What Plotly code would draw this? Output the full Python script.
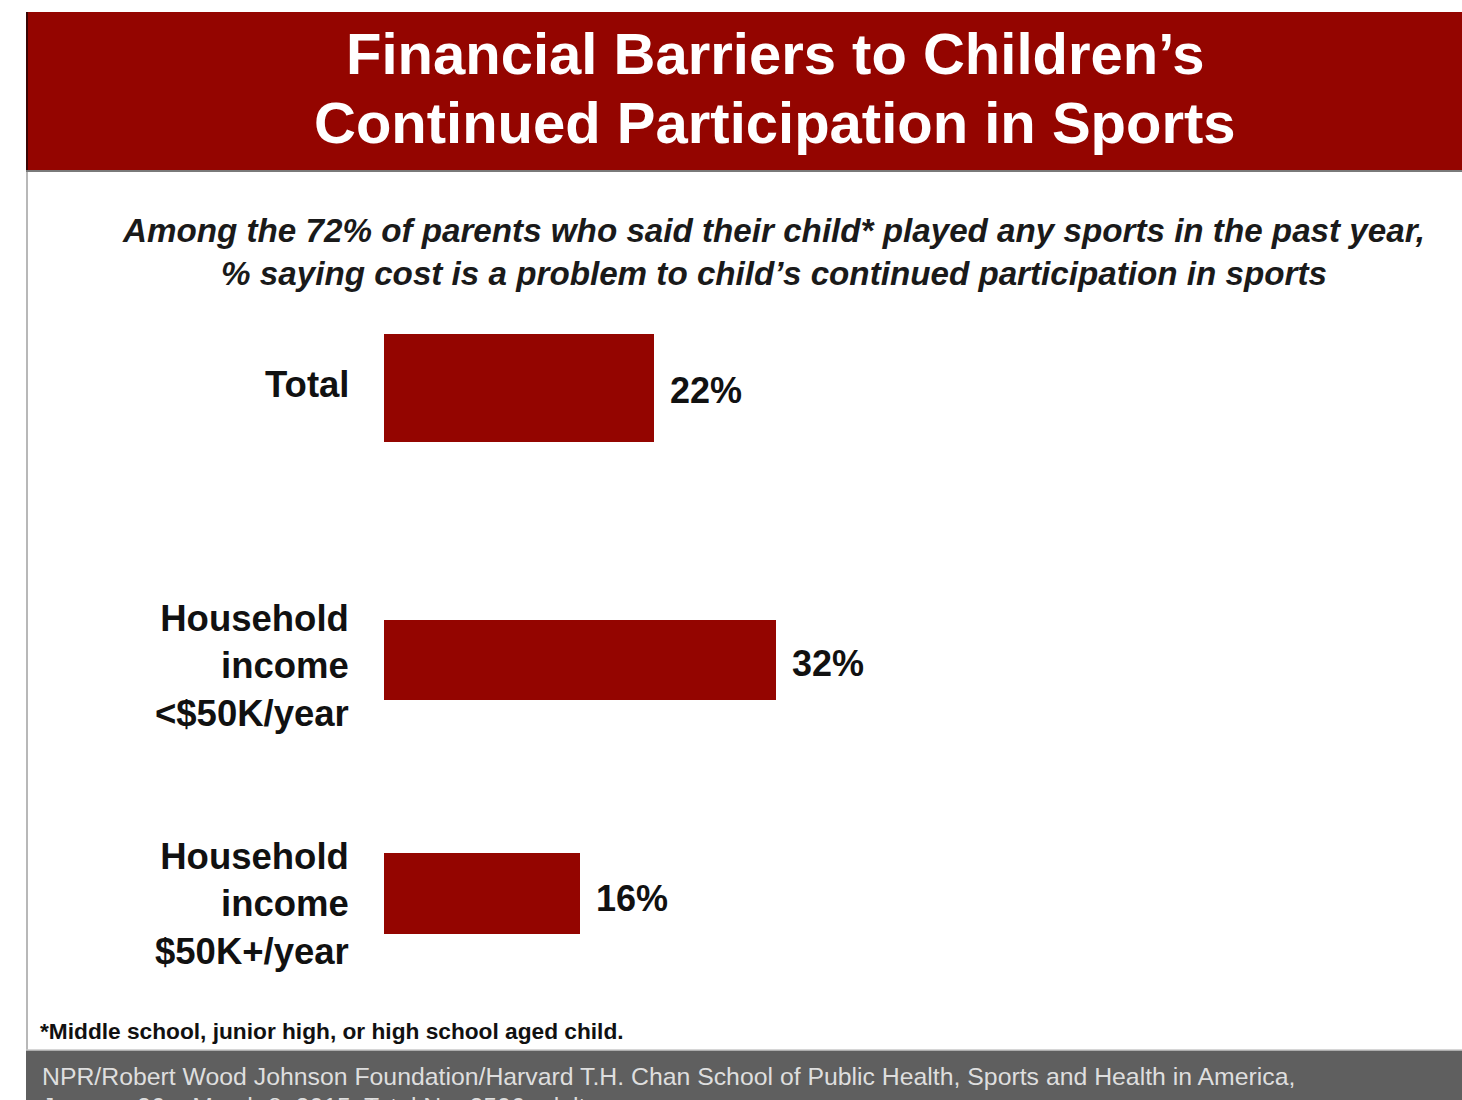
import plotly.graph_objects as go

# ---- data ----
categories = ["Total", "Household<br>income<br><$50K/year", "Household<br>income<br>$50K+/year"]
values = [22, 32, 16]

title_lines = ["Financial Barriers to Children\u2019s", "Continued Participation in Sports"]
subtitle = ("Among the 72% of parents who said their child* played any sports in the past year,<br>"
            "% saying cost is a problem to child\u2019s continued participation in sports")
footnote = "*Middle school, junior high, or high school aged child."
source_lines = ["NPR/Robert Wood Johnson Foundation/Harvard T.H. Chan School of Public Health, Sports and Health in America,",
                "January 26 \u2013 March 8, 2015. Total N = 2506 adults"]

# ---- styling ----
W, H = 1462, 1100
RED = "#940500"
FONT = "Liberation Sans, Arial, sans-serif"
bar_widths = [0.4235, 0.3137, 0.3176]
bar_offsets = [-0.2118, -0.0902, -0.1765]
label_yshift = [3, -23, -6]
value_yshift = [-2.5, -20.5, -0.5]


def X(px):
    return px / W


def Y(py):
    return 1 - py / H


fig = go.Figure()
fig.add_trace(go.Bar(
    y=list(range(len(categories))),
    x=values,
    orientation="h",
    marker=dict(color=RED, line=dict(width=0)),
    width=bar_widths,
    offset=bar_offsets,
    hoverinfo="skip",
))

annotations = []
# category labels
for i, c in enumerate(categories):
    annotations.append(dict(
        x=X(351), xref="paper", xanchor="right",
        y=i, yref="y", yanchor="middle", yshift=label_yshift[i],
        text="<b>" + c + "</b>", align="right", showarrow=False,
        font=dict(family=FONT, size=36.5, color="#111111"),
    ))
# value labels
for i, v in enumerate(values):
    annotations.append(dict(
        x=v, xref="x", xanchor="left", xshift=14,
        y=i, yref="y", yanchor="middle", yshift=value_yshift[i],
        text="<b>%d%%</b>" % v, showarrow=False,
        font=dict(family=FONT, size=36, color="#111111"),
    ))
# title
for ln, py in zip(title_lines, [53, 122.5]):
    annotations.append(dict(
        x=X(775), xref="paper", xanchor="center",
        y=Y(py), yref="paper", yanchor="middle",
        text="<b>" + ln + "</b>", showarrow=False,
        font=dict(family=FONT, size=58, color="white"),
    ))
# subtitle
annotations.append(dict(
    x=X(773), xref="paper", xanchor="center",
    y=Y(252), yref="paper", yanchor="middle",
    text="<b><i>" + subtitle + "</i></b>", align="center", showarrow=False,
    font=dict(family=FONT, size=33.2, color="#1a1a1a"),
))
# footnote
annotations.append(dict(
    x=X(38), xref="paper", xanchor="left",
    y=Y(1031), yref="paper", yanchor="middle",
    text="<b>" + footnote + "</b>", showarrow=False,
    font=dict(family=FONT, size=22.7, color="#111111"),
))
# source
for ln, py in zip(source_lines, [1076, 1106]):
    annotations.append(dict(
        x=X(40), xref="paper", xanchor="left",
        y=Y(py), yref="paper", yanchor="middle",
        text=ln, showarrow=False,
        font=dict(family=FONT, size=24.8, color="#dedede"),
    ))

shapes = [
    # title band
    dict(type="rect", xref="paper", yref="paper", x0=X(26), x1=X(1462), y0=Y(170), y1=Y(12),
         fillcolor=RED, line=dict(width=0), layer="below"),
    dict(type="line", xref="paper", yref="paper", x0=X(27), x1=X(27), y0=Y(171), y1=Y(12),
         line=dict(color="#3a0505", width=2), layer="below"),
    dict(type="line", xref="paper", yref="paper", x0=X(26), x1=X(1462), y0=Y(171), y1=Y(171),
         line=dict(color="#7a7a7a", width=2), layer="below"),
    # left border
    dict(type="line", xref="paper", yref="paper", x0=X(27), x1=X(27), y0=Y(1050), y1=Y(172),
         line=dict(color="#b8b8b8", width=2), layer="below"),
    # footer band
    dict(type="rect", xref="paper", yref="paper", x0=X(26), x1=X(1462), y0=Y(1100), y1=Y(1050),
         fillcolor="#5f5f5f", line=dict(width=0), layer="below"),
    dict(type="line", xref="paper", yref="paper", x0=X(26), x1=X(1462), y0=Y(1050), y1=Y(1050),
         line=dict(color="#c8c8c8", width=1.5), layer="below"),
]

fig.update_layout(
    width=W, height=H,
    margin=dict(l=0, r=0, t=0, b=0),
    paper_bgcolor="white", plot_bgcolor="white",
    showlegend=False,
    xaxis=dict(domain=[X(384), X(1446)], range=[0, 1062 / 12.25], visible=False, fixedrange=True),
    yaxis=dict(domain=[Y(1000), Y(300)], range=[2.4, -0.345], visible=False, fixedrange=True),
    annotations=annotations,
    shapes=shapes,
    bargap=0,
)

fig.write_html("out.html", config={"displayModeBar": False})
